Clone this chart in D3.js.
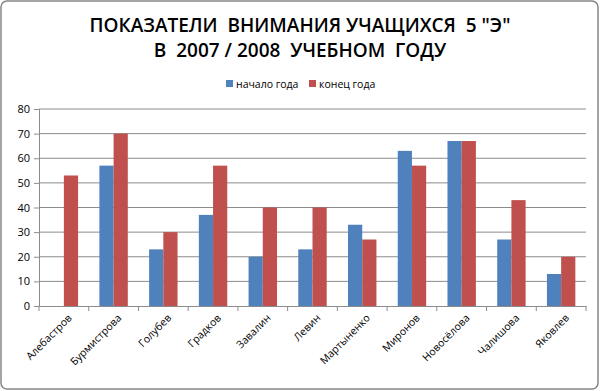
<!DOCTYPE html>
<html>
<head>
<meta charset="utf-8">
<script src="https://cdn.jsdelivr.net/npm/d3@7"></script>
<style>
  body { margin: 0; background: #fff; }
  svg { display: block; font-family: "Open Sans", "DejaVu Sans", sans-serif; }
</style>
</head>
<body>
<svg id="chart"></svg>
<script>
const students = ["Алебастров", "Бурмистрова", "Голубев", "Градков", "Завалин", "Левин",
                  "Мартыненко", "Миронов", "Новосёлова", "Чалишова", "Яковлев"];
const startYear = [0, 57, 23, 37, 20, 23, 33, 63, 67, 27, 13];
const endYear = [53, 70, 30, 57, 40, 40, 27, 57, 67, 43, 20];
const seriesNames = ["начало года", "конец года"];
const yTicks = [0, 10, 20, 30, 40, 50, 60, 70, 80];
const titleLines = ["ПОКАЗАТЕЛИ  ВНИМАНИЯ УЧАЩИХСЯ  5 \"Э\"", "В  2007 / 2008  УЧЕБНОМ  ГОДУ"];

const W = 600, H = 391;
const margin = {top: 109, right: 14, bottom: 85, left: 39};
const width = W - margin.left - margin.right;
const height = H - margin.top - margin.bottom;
const colors = ["#4f81bd", "#c0504d"];

const svg = d3.select("#chart").attr("width", W).attr("height", H);

// outer frame
svg.append("rect")
    .attr("x", 1).attr("y", 1)
    .attr("width", W - 3).attr("height", H - 3)
    .attr("rx", 6)
    .attr("fill", "#fff")
    .attr("stroke", "#868686")
    .attr("stroke-width", 1.5);

// title
svg.selectAll(".title")
    .data(titleLines)
    .enter().append("text")
    .attr("class", "title")
    .attr("x", W / 2)
    .attr("y", (d, i) => 32 + i * 25)
    .attr("text-anchor", "middle")
    .style("font-size", "19px")
    .style("font-weight", "600")
    .style("white-space", "pre")
    .attr("xml:space", "preserve")
    .text(d => d);

// legend
const legend = svg.append("g").attr("transform", "translate(226,84)");
const legendX = [0, 83];
seriesNames.forEach((name, i) => {
    legend.append("rect")
        .attr("x", legendX[i]).attr("y", -4)
        .attr("width", 7).attr("height", 7)
        .attr("fill", colors[i]);
    legend.append("text")
        .attr("x", legendX[i] + 10).attr("y", 4)
        .style("font-size", "10.5px")
        .text(name);
});

const g = svg.append("g")
    .attr("transform", `translate(${margin.left},${margin.top})`);

const x = d3.scaleBand()
    .domain(students)
    .range([0, width])
    .paddingInner(0)
    .paddingOuter(0);

const inner = x.bandwidth() / 3.5;
const xs = d3.scaleBand()
    .domain([0, 1])
    .range([x.bandwidth() / 2 - inner, x.bandwidth() / 2 + inner]);

const y = d3.scaleLinear()
    .domain([0, 80])
    .range([height, 0]);

// gridlines
g.append("g")
    .selectAll("line")
    .data(yTicks.slice(1))
    .enter().append("line")
    .attr("x1", 0).attr("x2", width)
    .attr("y1", d => y(d)).attr("y2", d => y(d))
    .attr("stroke", "#8c8c8c")
    .attr("stroke-width", 1);

// y axis
const yAxis = g.append("g")
    .call(d3.axisLeft(y).tickValues(yTicks).tickSize(5).tickPadding(4));
yAxis.select(".domain").attr("stroke", "#8c8c8c");
yAxis.selectAll(".tick line").attr("stroke", "#8c8c8c");
yAxis.selectAll("text")
    .style("font-size", "11px")
    .style("font-family", "'Open Sans', sans-serif")
    .attr("fill", "#000");

// bars
const groups = g.selectAll(".grp")
    .data(students.map((s, i) => ({name: s, vals: [startYear[i], endYear[i]]})))
    .enter().append("g")
    .attr("class", "grp")
    .attr("transform", d => `translate(${x(d.name)},0)`);

groups.selectAll("rect")
    .data(d => d.vals.map((v, k) => ({k, v})))
    .enter().append("rect")
    .filter(d => d.v > 0)
    .attr("x", d => xs(d.k))
    .attr("width", xs.bandwidth())
    .attr("y", d => y(d.v))
    .attr("height", d => height - y(d.v))
    .attr("fill", d => colors[d.k]);

// x axis
const xAxis = g.append("g")
    .attr("transform", `translate(0,${height})`)
    .call(d3.axisBottom(x).tickSize(0).tickFormat(""));
xAxis.select(".domain").attr("stroke", "#8c8c8c");

g.append("g")
    .selectAll("line")
    .data(students.map(s => x(s)).concat([width]))
    .enter().append("line")
    .attr("x1", d => d).attr("x2", d => d)
    .attr("y1", height).attr("y2", height + 5)
    .attr("stroke", "#8c8c8c");

g.append("g")
    .selectAll("text")
    .data(students)
    .enter().append("text")
    .attr("transform", d => `translate(${x(d) + x.bandwidth() / 2 + 6},${height + 10}) rotate(-45)`)
    .attr("text-anchor", "end")
    .attr("dy", "0.35em")
    .style("font-size", "10.5px")
    .text(d => d);
</script>
</body>
</html>
